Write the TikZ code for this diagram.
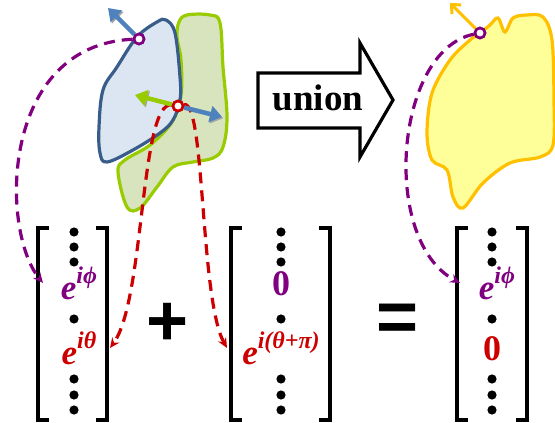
\documentclass[tikz,border=0pt]{standalone}
\usepackage{fontspec}
\setmainfont{Liberation Serif}
\newfontfamily\opfont{Liberation Sans}
\usetikzlibrary{arrows.meta}

\definecolor{phicol}{RGB}{128,0,128}
\definecolor{thetacol}{RGB}{204,0,0}
\definecolor{blueline}{RGB}{56,93,138}
\definecolor{bluefill}{RGB}{220,230,242}
\definecolor{greenline}{RGB}{153,204,0}
\definecolor{greenfill}{RGB}{215,228,189}
\definecolor{yellowline}{RGB}{255,192,0}
\definecolor{yellowfill}{RGB}{255,255,153}
\definecolor{normalcol}{RGB}{79,129,189}

% exponent written as base with a raised script
\newcommand{\expo}[2]{#1\raisebox{0.45em}{\fontsize{24}{24}\selectfont #2}}

\tikzset{
  pt/.style={circle, draw=#1, fill=white, line width=2.6pt, inner sep=0pt, minimum size=10pt},
  normal/.style={line width=4.5pt, draw=#1, -{Triangle[length=12pt,width=16pt]},
    preaction={draw=gray!70, transform canvas={shift={(1.3pt,-1.3pt)}}}},
  flow/.style={line width=3.2pt, draw=#1, dash pattern=on 11pt off 7pt,
    -{Stealth[length=10pt,width=9pt]}},
  entry/.style={text=#1, font=\fontsize{35}{35}\selectfont\bfseries\itshape, inner sep=1pt},
  bracket/.style={line width=3.4pt, line cap=rect},
}

\begin{document}
\begin{tikzpicture}[x=1pt, y=1pt]
  \useasboundingbox (0,0) rectangle (555,-423);

  % the two shapes before the union
  \draw[greenline, fill=greenfill, line width=3.2pt] plot[smooth cycle, tension=0.6] coordinates {
    (187,-15) (210,-15) (220,-23) (223,-67) (227,-117) (223,-147) (213,-158) (193,-162)
    (173,-167) (157,-187) (140,-208) (127,-207) (118,-172) (125,-160) (150,-145)
    (172,-122) (181,-95) (181,-60) (177,-37) (179,-22)};
  \draw[blueline, fill=bluefill, line width=3.2pt] plot[smooth cycle, tension=0.6] coordinates {
    (166,-20) (175,-33) (180,-77) (180,-100) (173,-120) (160,-133) (133,-150) (107,-162)
    (100,-153) (99,-127) (103,-90) (117,-67) (137,-37) (157,-22)};

  % the shape after the union
  \draw[yellowline, fill=yellowfill, line width=3.2pt] plot[smooth cycle, tension=0.55] coordinates {
    (480,-33) (490,-25) (498,-18) (505,-32) (513,-18) (527,-15) (543,-17) (552,-40)
    (554,-100) (553,-145) (540,-157) (510,-163) (483,-183) (463,-208) (453,-197)
    (447,-170) (432,-160) (427,-133) (432,-93) (450,-60) (470,-40)};

  % union arrow
  \draw[line width=3.2pt, fill=white, line join=miter]
    (258,-73) -- (360,-73) -- (360,-43) -- (393,-100) -- (360,-157) -- (360,-128) -- (258,-128) -- cycle;
  \node[font=\fontsize{37}{37}\selectfont\bfseries] (uni) at (318,-98) {union};

  % points on the boundaries
  \node[pt=phicol] (pA) at (139,-39) {};
  \node[pt=thetacol] (pB) at (178,-106) {};
  \node[pt=phicol] (pC) at (480,-33) {};

  % matrix brackets and dots
  \foreach \l/\r in {38/107, 231/330, 457/527} {
    \draw[bracket] (\l+9,-228) -- (\l,-228) -- (\l,-420) -- (\l+9,-420);
    \draw[bracket] (\r-9,-228) -- (\r,-228) -- (\r,-420) -- (\r-9,-420);
  }
  \foreach \x in {74,281,492}
    \foreach \y in {232,247,262,319,379,395,410}
      \fill (\x,-\y) circle (4.6pt);

  % matrix entries
  \node[entry=phicol] (mAa) at (79,-283) {\expo{e}{iϕ}};
  \node[entry=thetacol] (mAb) at (79,-348) {\expo{e}{iθ}};
  \node[entry=phicol, font=\fontsize{36}{36}\selectfont\bfseries] (mBa) at (281,-284) {0};
  \node[entry=thetacol] (mBb) at (281,-348) {\expo{e}{i(θ+π)}};
  \node[entry=phicol] (mCa) at (497,-283) {\expo{e}{iϕ}};
  \node[entry=thetacol, font=\fontsize{36}{36}\selectfont\bfseries] (mCb) at (492,-349) {0};

  \node[font=\opfont\fontsize{72}{72}\selectfont\bfseries] (plus) at (168,-324) {+};
  \node[font=\opfont\fontsize{72}{72}\selectfont\bfseries] (eq) at (398,-323) {=};

  % arrow ends beside the brackets
  \coordinate (tA) at (43,-283);
  \coordinate (tB) at (110,-348);
  \coordinate (tC) at (227,-348);
  \coordinate (tD) at (460,-283);

  % dashed flows from the points to the entries
  \draw[flow=phicol] (pA) .. controls (0,-45) and (0,-230) .. (tA);
  \draw[flow=thetacol] (pB) .. controls (140,-100) and (145,-300) .. (tB);
  \draw[flow=thetacol] (pB) .. controls (205,-100) and (200,-300) .. (tC);
  \draw[flow=phicol] (pC) .. controls (395,-50) and (380,-240) .. (tD);

  % normals at the points
  \coordinate (nA) at (108,-8);
  \coordinate (nB) at (135,-95);
  \coordinate (nC) at (222,-117);
  \coordinate (nD) at (450,-3);
  \draw[normal=normalcol] (pA) -- (nA);
  \draw[normal=greenline] (pB) -- (nB);
  \draw[normal=normalcol] (pB) -- (nC);
  \draw[line width=3pt, yellowline, -{Straight Barb[length=7pt,width=13pt]}] (pC) -- (nD);

  \node[pt=phicol] at (pA) {};
  \node[pt=thetacol] at (pB) {};
  \node[pt=phicol] at (pC) {};
\end{tikzpicture}
\end{document}
